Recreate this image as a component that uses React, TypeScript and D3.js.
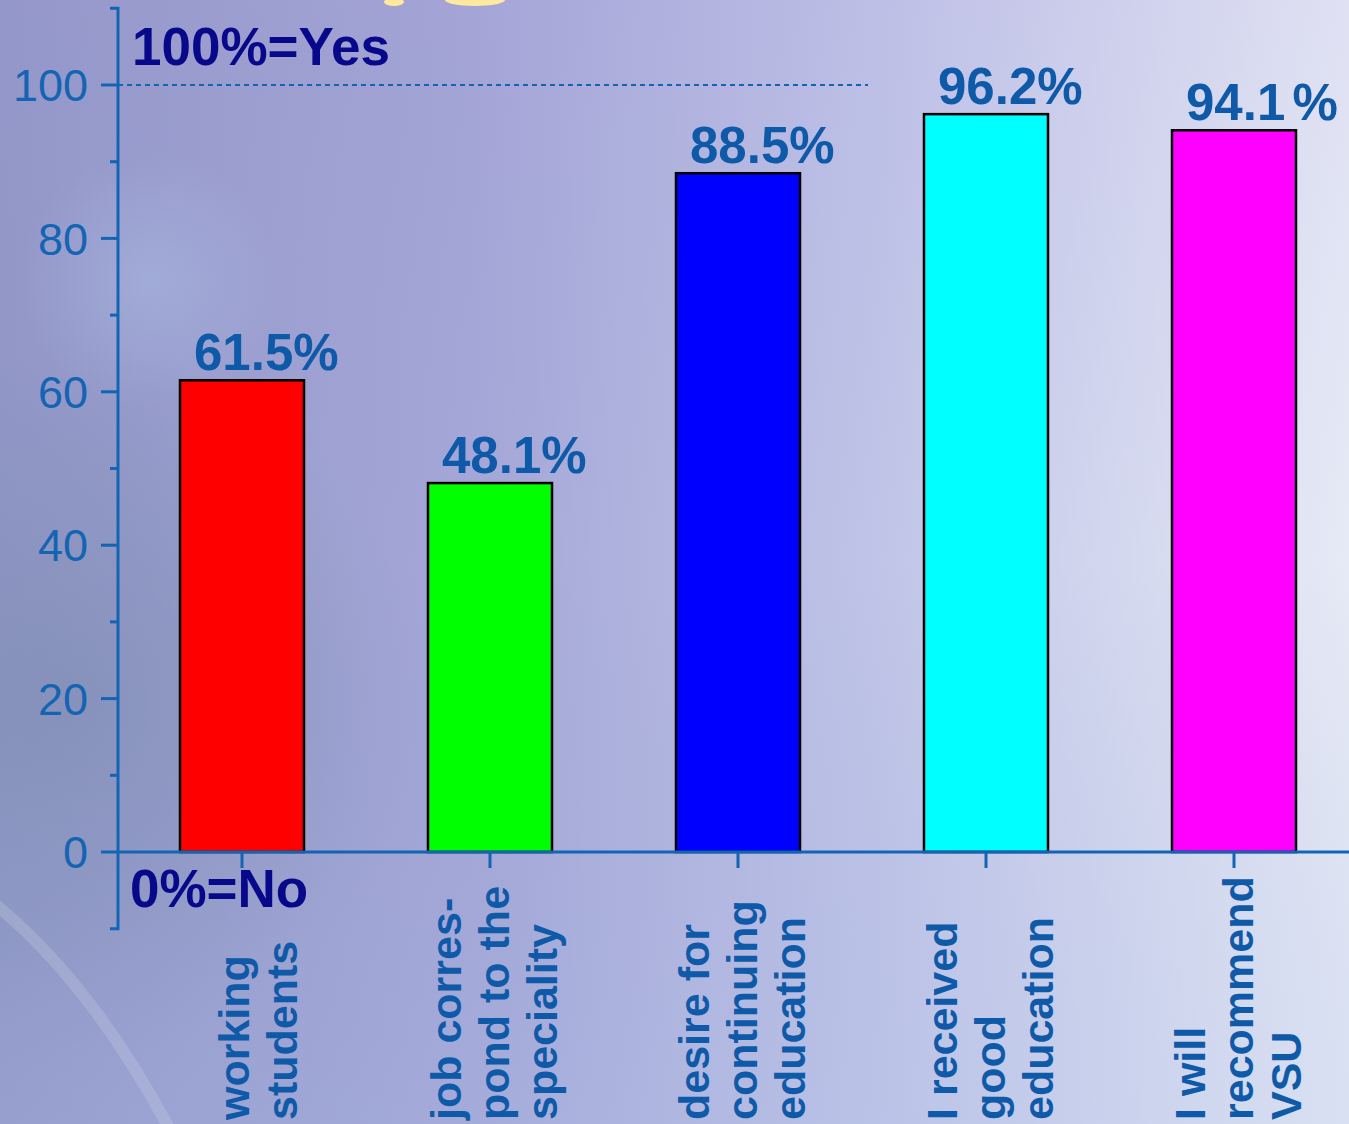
import React from "react";
import * as d3 from "d3";

const categories = ["working students", "job correspond", "desire for continuing", "received good education", "will recommend"];
const categoryLines = [
  ["working", "students"],
  ["job corres-", "pond to the", "speciality"],
  ["desire for", "continuing", "education"],
  ["I received", "good", "education"],
  ["I will", "recommend", "VSU"],
];
const values = [61.5, 48.1, 88.5, 96.2, 94.1];
const valueLabels = ["61.5%", "48.1%", "88.5%", "96.2%", "94.1 %"];
const barColors = ["#ff0000", "#00ff00", "#0000ff", "#00ffff", "#ff00ff"];
const majorTicks = [0, 20, 40, 60, 80, 100];
const minorTicks = [10, 30, 50, 70, 90];

const W = 1349;
const H = 1124;
const FONT = "Arial, 'Liberation Sans', Helvetica, sans-serif";
const AXIS = "#1464b4";
const LABEL = "#0f5aa8";
const NAVY = "#08088a";

export default function App() {
  const x = d3.scaleBand<string>().domain(categories).range([118, 1358]).paddingInner(0.5).paddingOuter(0.25);
  const y = d3.scaleLinear().domain([-10, 110]).range([928.7, 8.3]);
  const axisX = 118;
  const y0 = y(0);

  return (
    <svg width={W} height={H} style={{ position: "absolute", left: 0, top: 0 }} xmlns="http://www.w3.org/2000/svg">
      <defs>
        <linearGradient id="bgH" x1="0" y1="0" x2="1" y2="0">
          <stop offset="0" stopColor="#9398c8" />
          <stop offset="0.35" stopColor="#a6a8d8" />
          <stop offset="0.65" stopColor="#c3c7ea" />
          <stop offset="1" stopColor="#eceff9" />
        </linearGradient>
        <linearGradient id="bgV" x1="0" y1="0" x2="0" y2="1">
          <stop offset="0" stopColor="#9a8fd0" stopOpacity="0.15" />
          <stop offset="0.5" stopColor="#8090c0" stopOpacity="0.05" />
          <stop offset="1" stopColor="#9fb5e0" stopOpacity="0.25" />
        </linearGradient>
        <radialGradient id="glow" cx="150" cy="280" r="130" gradientUnits="userSpaceOnUse">
          <stop offset="0" stopColor="#b8d0f0" stopOpacity="0.3" />
          <stop offset="1" stopColor="#b8d0f0" stopOpacity="0" />
        </radialGradient>
        <radialGradient id="dark" cx="60" cy="700" r="360" gradientUnits="userSpaceOnUse">
          <stop offset="0" stopColor="#7588a8" stopOpacity="0.45" />
          <stop offset="1" stopColor="#7588a8" stopOpacity="0" />
        </radialGradient>
      </defs>
      <rect x={0} y={0} width={W} height={H} fill="url(#bgH)" />
      <rect x={0} y={0} width={W} height={H} fill="url(#bgV)" />
      <rect x={0} y={0} width={W} height={H} fill="url(#dark)" />
      <rect x={0} y={0} width={W} height={H} fill="url(#glow)" />
      <path d="M -10 900 Q 90 980 170 1130" fill="none" stroke="#dfe4f2" strokeOpacity={0.2} strokeWidth={12} />
      <ellipse cx={394} cy={2} rx={10} ry={4} fill="#ffe9a0" />
      <ellipse cx={475} cy={0} rx={30} ry={6} fill="#ffe9a0" />

      {/* dotted 100% line */}
      <line x1={axisX} x2={868} y1={y(100)} y2={y(100)} stroke={AXIS} strokeWidth={2} strokeDasharray="5,4" />

      {/* bars */}
      {values.map((v, i) => (
        <rect
          key={categories[i]}
          x={x(categories[i])!}
          y={y(v)}
          width={x.bandwidth()}
          height={y0 - y(v)}
          fill={barColors[i]}
          stroke="#000"
          strokeWidth={2.5}
        />
      ))}

      {/* value labels */}
      {values.map((v, i) => (
        <text
          key={"v" + i}
          x={x(categories[i])! + 14}
          y={y(v) - 10}
          fontFamily={FONT}
          fontWeight="bold"
          fontSize={51}
          fill={LABEL}
          style={{ wordSpacing: "-7px" }}
        >
          {valueLabels[i]}
        </text>
      ))}

      {/* y axis */}
      <path
        d={`M ${axisX - 8} ${y(110)} H ${axisX} V ${y(-10)} H ${axisX - 8}`}
        fill="none"
        stroke={AXIS}
        strokeWidth={3}
      />
      {majorTicks.map((t) => (
        <g key={"mt" + t}>
          <line x1={axisX - 17} x2={axisX} y1={y(t)} y2={y(t)} stroke={AXIS} strokeWidth={3} />
          <text
            x={axisX - 30}
            y={y(t)}
            dy="0.36em"
            textAnchor="end"
            fontFamily={FONT}
            fontSize={45}
            fill={AXIS}
          >
            {t}
          </text>
        </g>
      ))}
      {minorTicks.map((t) => (
        <line key={"mn" + t} x1={axisX - 8} x2={axisX} y1={y(t)} y2={y(t)} stroke={AXIS} strokeWidth={3} />
      ))}

      {/* x axis */}
      <line x1={axisX} x2={1358} y1={y0} y2={y0} stroke={AXIS} strokeWidth={3} />
      {categories.map((c) => {
        const cx = x(c)! + x.bandwidth() / 2;
        return <line key={"xt" + c} x1={cx} x2={cx} y1={y0} y2={y0 + 16} stroke={AXIS} strokeWidth={3} />;
      })}

      {/* category labels */}
      {categories.map((c, i) => {
        const lines = categoryLines[i];
        const n = lines.length;
        const tick = x(c)! + x.bandwidth() / 2;
        const center = tick + 19 + (n === 2 ? 12 : 0);
        return lines.map((ln, j) => {
          const bx = center + (j - (n - 1) / 2) * 48;
          return (
            <text
              key={c + j}
              transform={`translate(${bx},1120) rotate(-90)`}
              textAnchor="start"
              fontFamily={FONT}
              fontWeight="bold"
              fontSize={43}
              fill={LABEL}
            >
              {ln}
            </text>
          );
        });
      })}

      {/* annotations */}
      <text x={132} y={65} fontFamily={FONT} fontWeight="bold" fontSize={53} fill={NAVY}>
        100%=Yes
      </text>
      <text x={130} y={907} fontFamily={FONT} fontWeight="bold" fontSize={53} fill={NAVY}>
        0%=No
      </text>
    </svg>
  );
}
